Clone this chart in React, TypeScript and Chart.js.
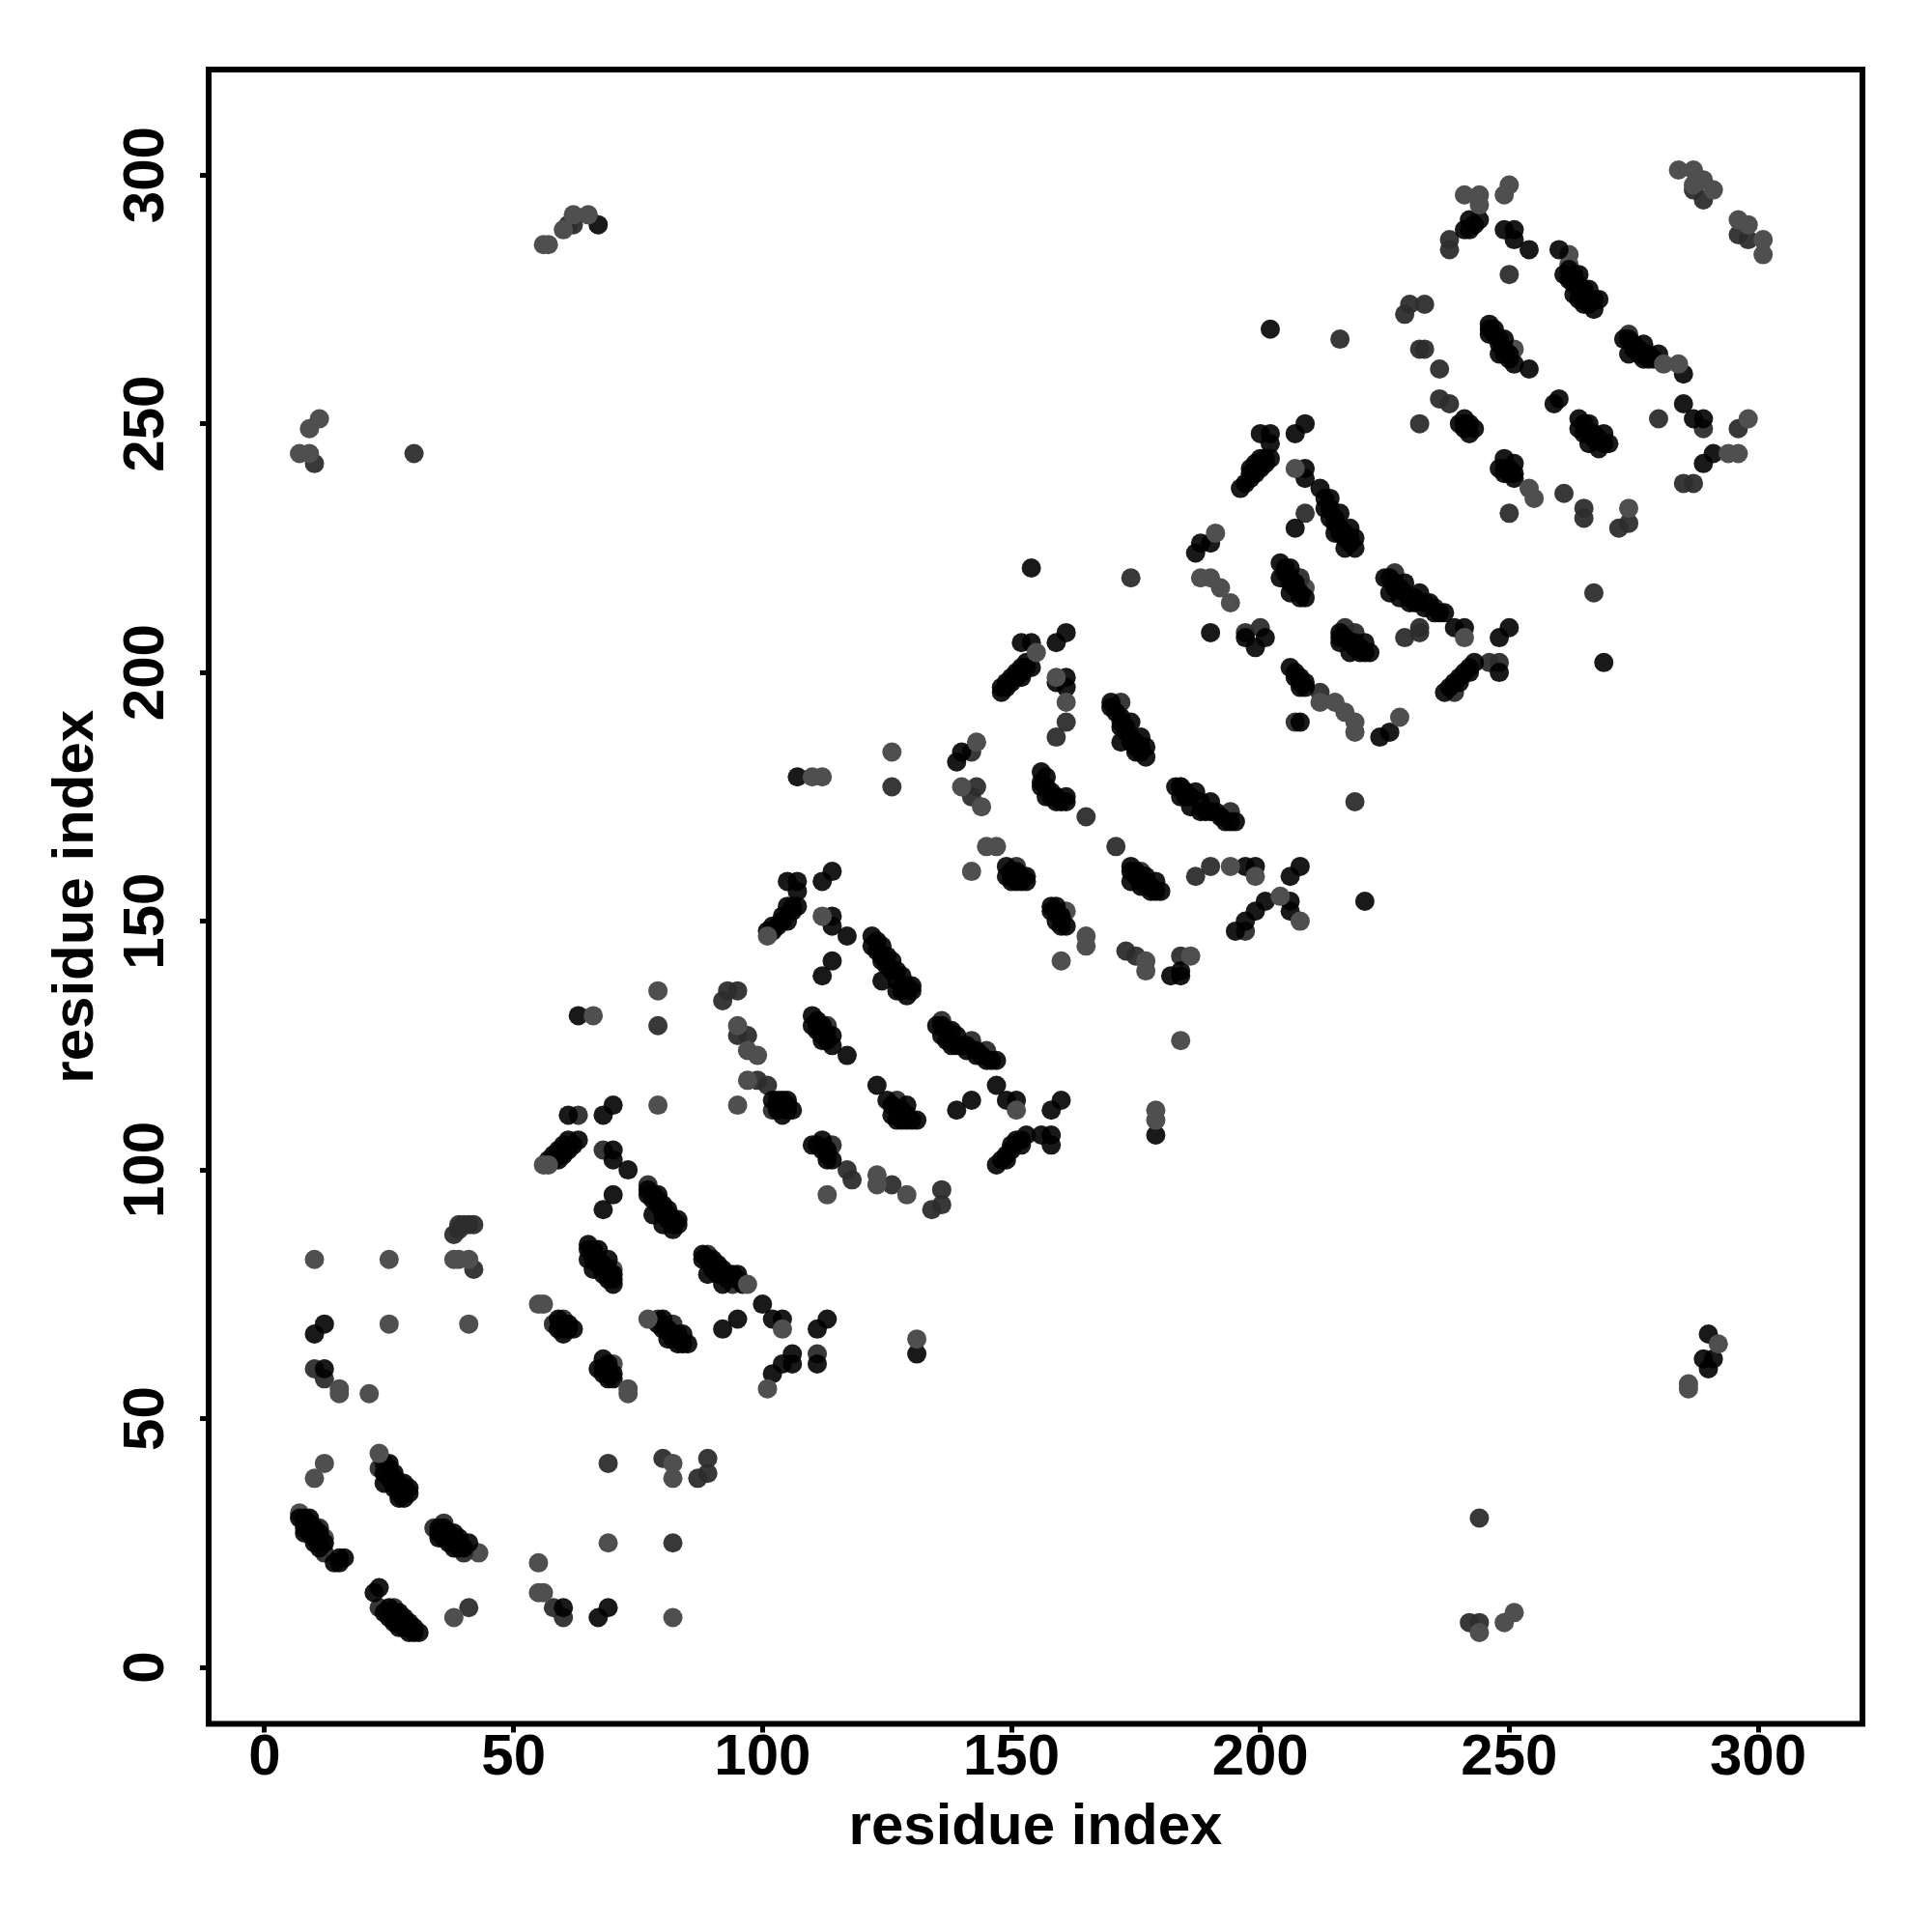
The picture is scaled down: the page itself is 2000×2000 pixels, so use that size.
import { useEffect, useRef } from "react";
import { Chart, registerables } from "chart.js";

Chart.register(...registerables);

type P = [number, number];

const tickValues = [0, 50, 100, 150, 200, 250, 300];
const axisTitle = "residue index";

// Low-contact pairs drawn beneath the rest (lighter grey)
const weakPoints: P[] = [
  [10,82],[25,82],[38,82],[39,82],[41,82],[25,69],[41,69],[15,56],[15,55],[21,55],[12,41],[10,38],[23,43],[97,77],[55,73],[56,73],[55,21],[55,15],[56,15],[38,10],[82,10],[69,25],[82,41],[82,38],[73,56],[73,55],[77,70],[79,136],[66,131],[79,113],[95,113],[97,118],[95,129],[97,124],[99,123],[113,95],[123,99],[123,97],[129,95],[151,112],[57,101],[56,101],[101,147],[101,56],[104,68],[110,179],[112,179],[126,184],[143,186],[140,177],[144,173],[161,194],[145,165],[147,165],[142,160],[165,147],[165,145],[160,142],[177,142],[177,140],[186,143],[184,126],[179,112],[179,110],[199,159],[194,161],[204,155],[208,150],[212,194],[215,194],[217,192],[219,190],[219,188],[188,219],[190,219],[192,217],[194,214],[191,228],[207,241],[241,207],[228,191],[155,204],[159,199],[112,151],[250,298],[249,296],[244,296],[244,294],[241,296],[284,301],[287,301],[287,298],[289,299],[298,251],[294,244],[296,244],[274,233],[298,290],[301,287],[301,284],[284,262],[281,262],[254,237],[255,235],[296,291],[291,297],[131,66],[292,65],[286,57],[286,56],[9,249],[11,251],[7,244],[9,244],[56,286],[57,286],[60,289],[62,292],[65,292],[251,11],[244,7],[249,9]
];

// Middle-strength pairs
const midPoints: P[] = [
  [38,87],[39,88],[39,89],[40,89],[41,89],[42,89],[42,80],[10,60],[12,58],[69,41],[80,42],[89,42],[89,39],[87,38],[23,40],[28,36],[11,28],[12,23],[34,28],[36,29],[40,23],[58,12],[60,10],[23,12],[26,12],[41,12],[82,25],[60,70],[79,70],[82,69],[58,69],[79,129],[63,111],[68,104],[77,97],[82,90],[89,83],[93,78],[94,77],[93,136],[95,136],[92,134],[97,127],[95,127],[99,118],[101,117],[102,112],[114,105],[117,100],[118,98],[127,114],[126,97],[136,96],[136,93],[134,92],[136,130],[142,126],[145,124],[113,129],[111,63],[165,171],[171,165],[126,177],[142,184],[143,177],[142,175],[159,187],[161,190],[172,194],[176,160],[151,161],[187,159],[190,161],[197,148],[184,143],[173,144],[175,143],[184,177],[194,172],[172,190],[209,232],[208,219],[207,190],[197,208],[200,209],[217,209],[219,208],[232,209],[239,196],[248,202],[246,202],[212,196],[227,220],[233,214],[235,213],[174,219],[219,174],[216,267],[236,261],[232,250],[238,287],[238,285],[230,274],[229,272],[233,274],[232,265],[233,265],[250,280],[250,232],[261,236],[265,233],[265,231],[272,229],[274,230],[267,216],[280,251],[289,249],[296,249],[287,238],[285,238],[236,255],[238,254],[274,268],[296,288],[298,287],[287,297],[289,295],[30,244],[10,242],[244,30],[242,9],[244,9],[61,290],[62,290],[232,208],[229,207]
];

// Strong pairs (near black)
const strongPoints: P[] = [
  [7,30],[8,29],[8,28],[9,30],[9,28],[9,27],[10,26],[10,28],[11,27],[11,25],[12,25],[14,21],[15,22],[15,21],[16,22],[22,15],[23,16],[25,11],[25,10],[26,9],[27,11],[27,9],[27,8],[28,10],[28,8],[29,9],[29,7],[30,7],[31,7],[25,41],[24,37],[26,38],[26,39],[27,36],[27,37],[27,35],[28,34],[28,35],[35,28],[35,27],[36,26],[37,27],[37,25],[38,24],[38,27],[39,25],[39,24],[41,25],[10,67],[12,69],[12,60],[60,12],[67,10],[69,12],[68,92],[70,95],[65,85],[67,84],[65,82],[66,84],[69,82],[66,80],[68,79],[70,77],[89,79],[88,82],[91,81],[92,77],[95,79],[95,70],[92,68],[100,73],[102,70],[104,70],[111,68],[113,70],[59,70],[60,67],[62,68],[59,68],[80,70],[81,66],[84,67],[85,65],[83,65],[68,62],[67,60],[69,58],[106,63],[104,61],[102,59],[111,61],[106,61],[131,63],[63,131],[61,111],[70,113],[68,111],[63,106],[61,106],[59,104],[59,102],[70,104],[70,102],[73,100],[79,95],[78,91],[81,92],[80,89],[82,88],[105,114],[102,114],[104,114],[106,112],[104,111],[114,151],[114,149],[117,147],[114,142],[112,139],[122,147],[122,145],[124,145],[124,142],[126,142],[124,138],[128,139],[127,136],[129,135],[130,137],[103,149],[105,150],[106,153],[105,153],[105,158],[107,158],[107,156],[112,158],[114,160],[110,131],[110,129],[112,129],[114,127],[112,126],[114,125],[117,123],[123,117],[125,114],[129,113],[126,111],[128,110],[131,110],[139,112],[142,114],[147,117],[149,114],[151,114],[158,112],[160,114],[153,107],[151,106],[149,103],[147,101],[156,107],[158,107],[158,105],[112,106],[110,105],[113,102],[135,129],[138,128],[136,127],[138,125],[140,125],[143,124],[147,122],[145,122],[107,179],[139,182],[140,184],[156,180],[157,179],[156,177],[157,175],[159,174],[161,174],[161,197],[161,199],[159,198],[170,194],[170,193],[172,186],[174,190],[176,187],[175,184],[177,185],[177,183],[183,177],[187,176],[184,175],[190,174],[186,173],[188,172],[191,172],[193,170],[195,170],[149,161],[149,159],[153,159],[151,158],[174,161],[174,158],[179,158],[176,157],[180,156],[178,156],[197,161],[199,161],[206,159],[208,161],[201,154],[199,152],[197,150],[195,148],[206,154],[206,152],[221,154],[159,153],[158,152],[161,149],[184,140],[182,139],[184,139],[208,190],[154,221],[148,196],[148,197],[150,198],[152,199],[154,201],[152,201],[150,199],[152,206],[154,206],[159,206],[161,208],[190,208],[200,248],[202,248],[207,248],[209,250],[202,246],[202,243],[200,243],[198,241],[200,241],[198,239],[196,237],[209,241],[209,239],[207,229],[212,237],[214,235],[216,232],[214,231],[218,229],[215,228],[219,227],[217,225],[219,225],[188,226],[187,224],[190,226],[197,207],[201,207],[199,205],[204,222],[206,221],[204,219],[206,216],[209,215],[226,219],[225,219],[229,218],[226,216],[232,216],[228,215],[230,214],[237,212],[239,209],[241,209],[248,207],[250,209],[216,206],[221,206],[218,204],[222,204],[220,204],[243,202],[241,200],[239,198],[237,196],[248,200],[206,201],[208,197],[224,187],[226,188],[202,269],[241,251],[241,249],[243,249],[249,243],[251,242],[248,241],[251,239],[264,251],[266,250],[264,249],[269,248],[266,246],[270,246],[268,245],[260,255],[259,254],[244,291],[242,291],[241,289],[249,289],[251,289],[251,287],[254,285],[260,285],[264,280],[262,279],[266,277],[263,276],[268,275],[265,274],[267,273],[246,270],[247,269],[246,268],[249,267],[248,264],[251,262],[254,261],[274,267],[273,267],[277,266],[274,264],[280,264],[277,263],[285,260],[285,254],[287,251],[289,251],[291,244],[289,242],[269,202],[290,67],[289,62],[291,62],[290,60],[67,290],[179,107]
];

// More strong pairs inside the dense diagonal bands
const bandPoints: P[] = [
  [8,30],[8,27],[9,29],[10,27],[11,26],[10,25],[11,24],[24,11],[25,12],[26,11],[26,10],[27,10],[28,9],[29,8],[30,8],[24,41],[24,39],[25,40],[25,38],[26,37],[26,36],[27,34],[28,37],[29,35],[29,36],[36,28],[36,27],[37,26],[38,25],[39,26],[40,24],[35,26],
  [65,84],[66,83],[66,82],[67,82],[67,81],[68,81],[68,80],[69,80],[69,79],[69,78],[70,79],[70,78],[77,96],[77,95],[78,95],[78,94],[79,94],[79,93],[80,93],[80,91],[81,91],[81,90],[82,89],[83,89],[83,90],[88,83],[89,82],[90,82],[90,80],[91,79],[92,80],[93,79],[94,79],[95,78],[96,77],[60,69],[61,68],[61,69],[60,68],[79,69],[80,68],[81,68],[82,67],[83,67],[82,66],[84,65],[68,60],[69,61],[69,60],[68,59],[70,59],[70,58],
  [103,114],[103,113],[104,113],[105,113],[105,112],[103,112],[111,130],[111,129],[111,128],[112,128],[113,127],[113,126],[112,127],[123,146],[123,144],[124,143],[125,143],[125,141],[126,140],[127,140],[127,138],[128,137],[129,137],[128,136],[130,136],[136,129],[137,128],[137,126],[139,127],[139,125],[141,125],[141,124],[143,123],[144,123],[146,122],[126,113],[127,112],[128,112],[129,111],[130,110],[129,110],[127,110],[111,105],[112,104],[113,104],[113,103],[114,102],[60,105],[62,105],[60,103],[58,103],[58,102],[57,102],[61,104],[148,102],[150,104],[150,105],[152,106],[152,105],[149,102],[102,149],[102,148],[104,151],[104,150],[106,152],[107,153],[101,148],
  [156,178],[157,177],[158,176],[158,175],[159,175],[160,174],[161,175],[171,192],[172,191],[172,189],[173,189],[173,188],[174,187],[174,186],[175,186],[176,185],[176,184],[175,185],[184,177],[185,176],[185,175],[186,175],[188,174],[189,172],[190,172],[192,171],[194,170],[150,160],[151,160],[150,158],[152,159],[152,158],[153,158],[150,159],[175,160],[175,159],[176,158],[177,158],[177,157],[178,157],[179,156],[174,160],[177,159],[158,153],[159,152],[159,150],[160,150],[160,149],[160,151],[149,197],[149,198],[151,199],[151,200],[152,200],[153,202],[153,201],
  [197,238],[198,240],[199,240],[199,242],[201,242],[201,243],[213,235],[213,233],[214,233],[215,231],[215,230],[216,229],[216,228],[217,228],[217,227],[218,226],[218,227],[227,218],[227,217],[228,217],[229,216],[230,215],[231,215],[231,214],[234,214],[235,212],[236,212],[233,213],[205,221],[205,220],[206,219],[206,218],[207,218],[207,217],[208,216],[208,215],[216,208],[216,207],[217,207],[218,206],[219,206],[219,205],[220,205],[221,204],[207,200],[207,199],[208,199],[208,198],[209,198],[209,197],[238,197],[240,199],[240,198],[242,201],[242,200],
  [263,278],[263,280],[264,278],[265,277],[265,276],[266,275],[266,274],[267,275],[264,275],[262,281],[261,280],[275,266],[275,265],[276,265],[276,264],[278,264],[278,263],[279,263],[246,269],[247,268],[248,267],[248,266],[249,265],[249,264],[250,264],[250,263],[265,250],[265,248],[266,248],[267,248],[267,247],[268,247],[269,246],[249,241],[250,241],[250,240],[249,240],[251,240],[240,250],[242,250],[242,248],[241,250],[242,289],[243,290]
];

// Lighter pairs that sit on top of the dark bands
const weakTopPoints: P[] = [
  [7,31],[12,26],[43,23],[70,80],[70,61],[161,152],[209,217],[251,265],[262,284],[262,282]
];

const pts = (list: P[]) => list.map(([x, y]) => ({ x, y }));

export default function App() {
  const ref = useRef<HTMLCanvasElement>(null);
  useEffect(() => {
    document.body.style.margin = "0";
    const font = { family: '"Liberation Sans", Arial, sans-serif', size: 60, weight: "bold" as const };
    const axis = (horizontal: boolean) => ({
      type: "linear" as const,
      min: horizontal ? -11.25 : -11.36,
      max: horizontal ? 320.95 : 321.2,
      afterBuildTicks: (s: any) => {
        s.ticks = tickValues.map((value) => ({ value }));
      },
      afterFit: (s: any) => {
        if (horizontal) s.height = 215.5;
        else s.width = 216;
      },
      border: { display: false },
      grid: {
        drawOnChartArea: false,
        drawTicks: true,
        tickLength: 9,
        tickWidth: 5,
        tickColor: "#000",
      },
      ticks: horizontal
        ? { color: "#000", font, padding: -9, maxRotation: 0, minRotation: 0, autoSkip: false }
        : { color: "#000", font, padding: 4.5, minRotation: 90, maxRotation: 90, crossAlign: "center" as const, autoSkip: false },
      title: {
        display: true,
        text: axisTitle,
        color: "#000",
        font,
        padding: horizontal ? { top: 0, bottom: 72 } : { top: 43, bottom: 0 },
      },
    });
    const frame = {
      id: "frame",
      afterDraw(c: any) {
        const { left, right, top, bottom } = c.chartArea;
        const g = c.ctx;
        g.save();
        g.strokeStyle = "#000";
        g.lineWidth = 6;
        g.strokeRect(left, top, right - left, bottom - top);
        g.restore();
      },
    };
    const series = (label: string, list: P[], color: string) => ({
      label,
      data: pts(list),
      backgroundColor: color,
      pointBorderWidth: 0,
      pointRadius: 10,
      pointHoverRadius: 10,
    });
    const chart = new Chart(ref.current!, {
      type: "scatter",
      data: {
        datasets: [
          series("weak", weakPoints, "#4f4f4f"),
          series("band", bandPoints, "rgba(0,0,0,0.9)"),
          series("strong", strongPoints, "rgba(0,0,0,0.9)"),
          series("mid", midPoints, "rgba(45,45,45,0.95)"),
          series("weakTop", weakTopPoints, "#4f4f4f"),
        ],
      },
      options: {
        animation: false,
        responsive: false,
        layout: { padding: { top: 72, right: 72, left: 0, bottom: 0 } },
        plugins: { legend: { display: false }, tooltip: { enabled: false }, title: { display: false } },
        scales: { x: axis(true), y: axis(false) },
      },
      plugins: [frame],
    });
    return () => chart.destroy();
  }, []);
  return <canvas ref={ref} width={2000} height={2000} style={{ display: "block", width: 2000, height: 2000 }} />;
}
